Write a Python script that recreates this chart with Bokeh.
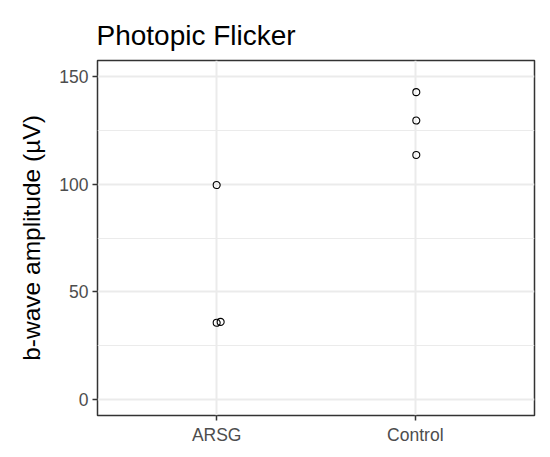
from bokeh.plotting import figure
from bokeh.models import FixedTicker, Range1d, ColumnDataSource
from bokeh.embed import file_html
from bokeh.resources import INLINE

# Data
categories = ["ARSG", "Control"]
group = ["ARSG", "ARSG", "ARSG", "Control", "Control", "Control"]
amplitude = [99.6, 35.6, 36.0, 142.8, 129.6, 113.6]
jitter = [0.0, 0.0, 0.02, 0.005, 0.005, 0.005]
y_ticks = [0, 50, 100, 150]
y_minor = [25, 75, 125]

xpos = [categories.index(g) + 1 + j for g, j in zip(group, jitter)]
src = ColumnDataSource(dict(x=xpos, y=amplitude, group=group))

FONT = "Liberation Sans"

p = figure(width=542, height=449, output_backend="svg", toolbar_location=None,
           x_range=Range1d(0.4, 2.6), y_range=Range1d(-7.5, 157.5),
           title="Photopic Flicker",
           min_border_left=97, min_border_right=8, min_border_top=60,
           min_border_bottom=34)

p.title.text_font = FONT
p.title.text_font_size = "28px"
p.title.text_font_style = "normal"
p.title.text_color = "black"
p.title.offset = -1
p.title.standoff = 19

p.background_fill_color = "white"
p.border_fill_color = "white"
p.outline_line_color = "#333333"
p.outline_line_width = 1.5

# Axes
p.xaxis.ticker = FixedTicker(ticks=[1, 2])
p.xaxis.major_label_overrides = {i + 1: c for i, c in enumerate(categories)}
p.yaxis.ticker = FixedTicker(ticks=y_ticks, minor_ticks=y_minor)
p.yaxis.axis_label = "b-wave amplitude (µV)"

for ax in (p.xaxis, p.yaxis):
    ax.axis_line_color = None
    ax.major_tick_line_color = "#333333"
    ax.major_tick_line_width = 1.5
    ax.major_tick_out = 5
    ax.major_tick_in = 0
    ax.minor_tick_line_color = None
    ax.major_label_text_font = FONT
    ax.major_label_text_font_size = "17.5px"
    ax.major_label_text_color = "#4D4D4D"
    ax.axis_label_text_font = FONT
    ax.axis_label_text_font_size = "24.5px"
    ax.axis_label_text_font_style = "normal"
    ax.axis_label_text_color = "black"

p.xaxis.major_label_standoff = 4
p.yaxis.major_label_standoff = 4
p.yaxis.axis_label_standoff = 11

# Grid
p.xgrid.grid_line_color = "#EBEBEB"
p.xgrid.grid_line_width = 2
p.ygrid.grid_line_color = "#EBEBEB"
p.ygrid.grid_line_width = 2
p.ygrid.minor_grid_line_color = "#EBEBEB"
p.ygrid.minor_grid_line_width = 1

p.scatter("x", "y", source=src, size=7, fill_color=None,
          line_color="black", line_width=1.1)

open("out.html", "w").write(file_html(p, INLINE))
